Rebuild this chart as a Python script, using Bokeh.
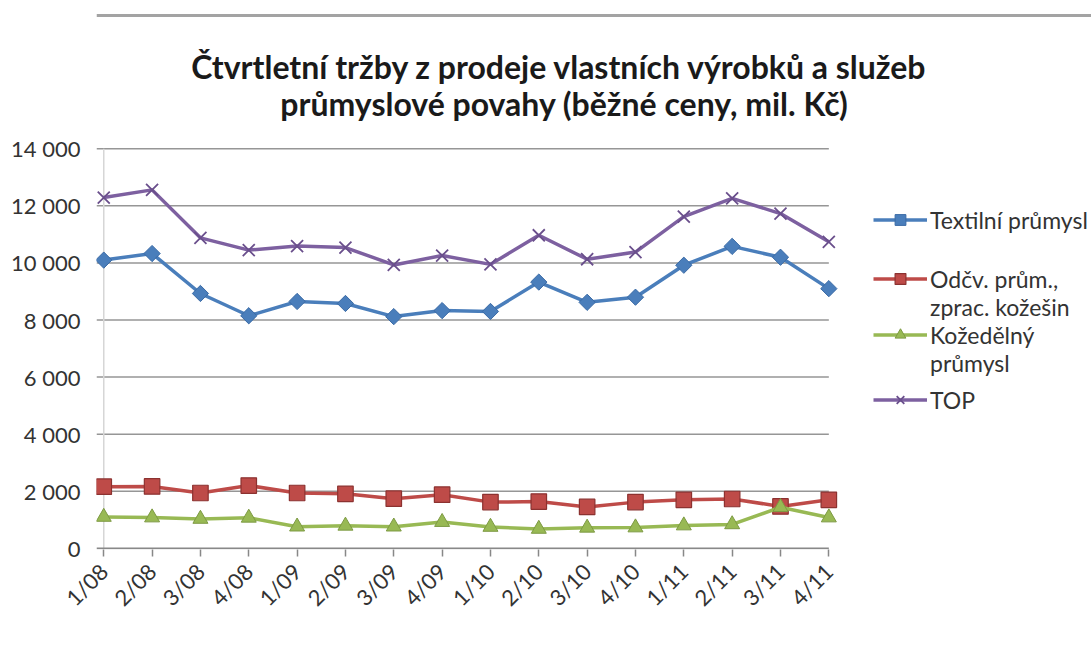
from bokeh.plotting import figure
from bokeh.models import Range1d, FixedTicker, Legend, LegendItem
from bokeh.embed import file_html
from bokeh.resources import INLINE
from bokeh.core.properties import value

# ---- data ----
quarters = ["1/08", "2/08", "3/08", "4/08", "1/09", "2/09", "3/09", "4/09",
            "1/10", "2/10", "3/10", "4/10", "1/11", "2/11", "3/11", "4/11"]
textil = [10100, 10330, 8930, 8150, 8650, 8580, 8120, 8330,
          8300, 9330, 8620, 8800, 9920, 10580, 10200, 9100]
odev = [2160, 2170, 1940, 2200, 1940, 1910, 1740, 1880,
        1620, 1640, 1450, 1620, 1700, 1730, 1470, 1700]
koze = [1100, 1080, 1030, 1070, 760, 790, 760, 920,
        750, 680, 720, 730, 800, 840, 1440, 1080]
top = [12290, 12560, 10880, 10450, 10590, 10540, 9930, 10260,
       9950, 10970, 10130, 10380, 11620, 12260, 11730, 10740]
series_labels = [["Textilní průmysl"], ["Odčv. prům.,", "zprac. kožešin"],
                 ["Kožedělný", "průmysl"], ["TOP"]]
y_ticks = [0, 2000, 4000, 6000, 8000, 10000, 12000, 14000]
y_tick_labels = ["0", "2 000", "4 000", "6 000", "8 000", "10 000", "12 000", "14 000"]
title_lines = ["Čtvrtletní tržby z prodeje vlastních výrobků a služeb",
               "průmyslové povahy (běžné ceny, mil. Kč)"]

FONT = "Lato"
TXT = "#333333"
x = list(range(len(quarters)))

# ---- geometry (pixels) ----
FL, FB = 96, 549          # frame left / bottom on the page
FW, FH = 995, 549         # frame covers everything right of the y labels
x_start = -0.15
PPU_X = 742 / 15.35       # pixels per category step
y_start = -40
PPU_Y = 403 / 14120       # pixels per unit of value
x_end = x_start + FW / PPU_X
y_end = y_start + FH / PPU_Y


def px_x(px):
    return x_start + (px - FL) / PPU_X


def px_y(py):
    return y_start + (FB - py) / PPU_Y


p = figure(frame_width=FW, frame_height=FH,
           min_border_left=FL, min_border_right=0,
           min_border_top=0, min_border_bottom=112,
           x_range=Range1d(x_start, x_end), y_range=Range1d(y_start, y_end),
           output_backend="svg", toolbar_location=None, title=None,
           background_fill_color="white", border_fill_color="white")
p.outline_line_color = None
p.xgrid.visible = False
p.ygrid.visible = False

# decorative rule at the top of the sheet
p.segment(x0=[x_start], y0=[px_y(15)], x1=[x_end], y1=[px_y(15)],
          line_color="#a3a3a3", line_width=3)

# title
p.text(x=[px_x(559), px_x(564)], y=[px_y(66), px_y(103)], text=title_lines,
       text_font=value(FONT), text_font_size="32px", text_font_style="bold",
       text_color="#1a1a1a", text_align="center", text_baseline="middle")

# gridlines
grid_y = y_ticks[1:]
p.segment(x0=[x_start] * len(grid_y), y0=grid_y, x1=[x[-1]] * len(grid_y), y1=grid_y,
          line_color="#969696", line_width=1.5)
# vertical axis line (light)
p.segment(x0=[x[0]], y0=[y_ticks[0]], x1=[x[0]], y1=[y_ticks[-1]],
          line_color="#d6d6d6", line_width=1.5)
# horizontal axis line
p.segment(x0=[x_start], y0=[y_ticks[0]], x1=[x[-1]], y1=[y_ticks[0]],
          line_color="#888888", line_width=1.8)

# y axis
p.yaxis.ticker = FixedTicker(ticks=y_ticks)
p.yaxis.major_label_overrides = {t_: l for t_, l in zip(y_ticks, y_tick_labels)}
p.yaxis.axis_line_color = None
p.yaxis.major_tick_line_color = None
p.yaxis.major_tick_out = 0
p.yaxis.major_tick_in = 0
p.yaxis.minor_tick_line_color = None
p.yaxis.major_label_standoff = 16
p.yaxis.major_label_text_font = FONT
p.yaxis.major_label_text_font_size = "22px"
p.yaxis.major_label_text_color = TXT

# x axis
p.xaxis.ticker = FixedTicker(ticks=x)
p.xaxis.major_label_overrides = {i: q for i, q in zip(x, quarters)}
p.xaxis.axis_line_color = None
p.xaxis.major_tick_line_color = "#888888"
p.xaxis.major_tick_line_width = 1.5
p.xaxis.major_tick_in = 0
p.xaxis.major_tick_out = 7
p.xaxis.minor_tick_line_color = None
p.xaxis.major_label_orientation = 0.785
p.xaxis.major_label_standoff = 11
p.xaxis.major_label_text_font = FONT
p.xaxis.major_label_text_font_size = "22px"
p.xaxis.major_label_text_color = TXT

LW = 3.5
l1 = p.line(x, textil, line_color="#4A7EBB", line_width=LW)
m1 = p.scatter(x, textil, marker="square", angle=0.785, size=11.5, fill_color="#4A7EBB",
               line_color="#3a6aa5", line_width=1)
l2 = p.line(x, odev, line_color="#BE4B48", line_width=LW)
m2 = p.scatter(x, odev, marker="square", size=15.5, fill_color="#BE4B48",
               line_color="#8c3230", line_width=1.2)
l3 = p.line(x, koze, line_color="#98B954", line_width=LW)
m3 = p.scatter(x, koze, marker="triangle", size=15, fill_color="#98B954",
               line_color="#7d9a43", line_width=1)
l4 = p.line(x, top, line_color="#7D60A0", line_width=LW)
m4 = p.scatter(x, top, marker="x", size=17, line_color="#6a4f8c", line_width=1.8)

# legends: one row per text line; continuation rows carry an invisible renderer
blank = p.line([], [], line_alpha=0)
ROW = 27
LEG_X = 873  # page x where the legend glyphs start


def add_legend(rows, first_row_center):
    items = [LegendItem(label=lab, renderers=r) for lab, r in rows]
    bottom = first_row_center - ROW / 2 + ROW * len(rows)
    lg = Legend(items=items, location=(LEG_X - FL, FB - bottom), orientation="vertical",
                padding=0, margin=0, spacing=0, border_line_color=None,
                background_fill_alpha=0, glyph_width=54, glyph_height=ROW,
                label_height=ROW, label_standoff=3,
                label_text_font=FONT, label_text_font_size="23px",
                label_text_color=TXT)
    p.add_layout(lg)


add_legend([(series_labels[0][0], [l1, m1])], 220)
add_legend([(series_labels[1][0], [l2, m2]), (series_labels[1][1], [blank]),
            (series_labels[2][0], [l3, m3]), (series_labels[2][1], [blank])], 282)
add_legend([(series_labels[3][0], [l4, m4])], 400)

open("out.html", "w").write(file_html(p, INLINE))
